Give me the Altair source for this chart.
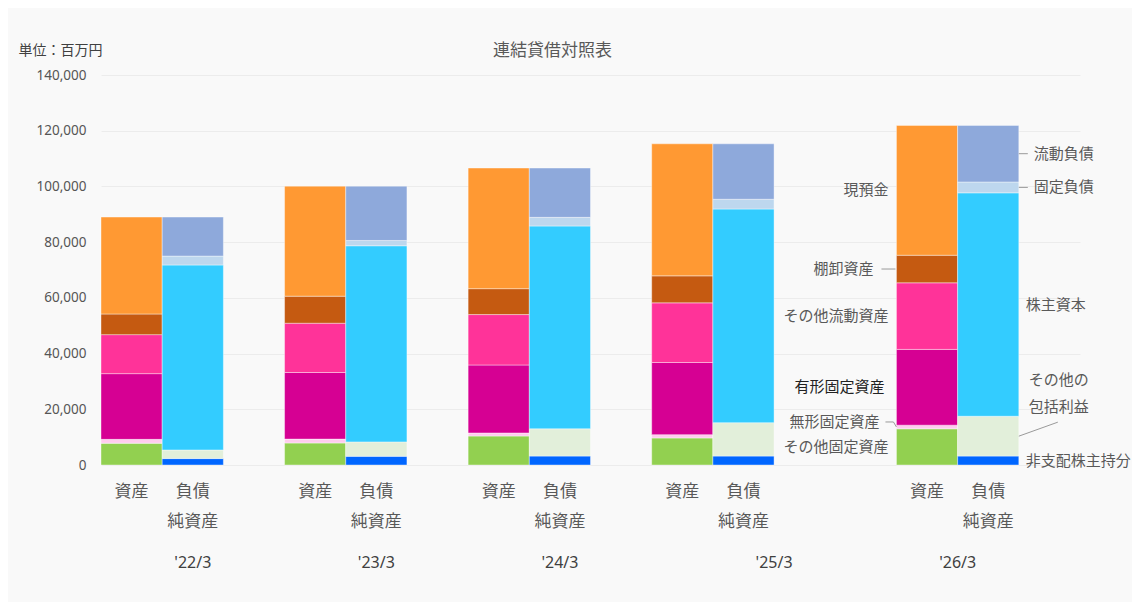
import altair as alt
import pandas as pd

JP = "Noto Sans CJK JP"
LAT = "Noto Sans, Noto Sans CJK JP"

years = ["'22/3", "'23/3", "'24/3", "'25/3", "'26/3"]

# 資産の部（百万円）
cash = [34800, 39500, 43300, 47400, 46600]
inventory = [7400, 9700, 9300, 9700, 9900]
other_current = [14000, 17700, 18100, 21400, 23900]
tangible = [23600, 23900, 24400, 25900, 27200]
intangible = [1400, 1400, 1100, 1200, 1300]
other_fixed = [7800, 7900, 10400, 9700, 13000]

# 負債・純資産の部（百万円）
current_liab = [14000, 19500, 17700, 19900, 20300]
fixed_liab = [3200, 1900, 3100, 3500, 3900]
equity = [66400, 70400, 72800, 76700, 80200]
oci = [3100, 5200, 9800, 12000, 14300]
nci = [2300, 3100, 3200, 3200, 3200]

asset_items = ["その他固定資産", "無形固定資産", "有形固定資産", "その他流動資産", "棚卸資産", "現預金"]
asset_values = [other_fixed, intangible, tangible, other_current, inventory, cash]
asset_colors = ["#92D050", "#FFCCEE", "#D60093", "#FF3399", "#C55A11", "#FF9933"]

liab_items = ["非支配株主持分", "その他の包括利益", "株主資本", "固定負債", "流動負債"]
liab_values = [nci, oci, equity, fixed_liab, current_liab]
liab_colors = ["#0066FF", "#E2EFDA", "#33CCFF", "#BDD7EE", "#8EA9DB"]

# layout: slot of each year's 資産 bar (負債純資産 bar in the next slot)
asset_slot = [0, 3, 6, 9, 13]
year_label_slot = [1.5, 4.5, 7.5, 11, 14]
n_slots = 16

rows = []
for i, yr in enumerate(years):
    lo = 0
    for item, vals in zip(asset_items, asset_values):
        v = vals[i]
        rows.append(dict(year=yr, side="A", item=item, lo=lo, hi=lo + v, mid=lo + v / 2,
                         x=asset_slot[i], x2=asset_slot[i] + 1))
        lo += v
    lo = 0
    for item, vals in zip(liab_items, liab_values):
        v = vals[i]
        rows.append(dict(year=yr, side="L", item=item, lo=lo, hi=lo + v, mid=lo + v / 2,
                         x=asset_slot[i] + 1, x2=asset_slot[i] + 2))
        lo += v
df = pd.DataFrame(rows)

xscale = alt.Scale(domain=[0, n_slots], nice=False, zero=False)
yscale = alt.Scale(domain=[0, 140000], nice=False)

bars = alt.Chart(df).mark_bar(stroke="white", strokeWidth=0.4).encode(
    x=alt.X("x:Q", scale=xscale, axis=None),
    x2="x2:Q",
    y=alt.Y("lo:Q", scale=yscale,
            axis=alt.Axis(values=list(range(0, 140001, 20000)), format=",d", grid=True,
                          gridColor="#ececec", gridWidth=1, domain=False, ticks=False,
                          labelPadding=15, labelFontSize=13.5, labelColor="#555555",
                          labelFont=LAT, title="単位：百万円", titleAngle=0, titleX=-83,
                          titleY=-25, titleAlign="left", titleBaseline="middle",
                          titleFontWeight="normal", titleFontSize=14, titleColor="#404040",
                          titleFont=JP)),
    y2="hi:Q",
    color=alt.Color("item:N", scale=alt.Scale(domain=asset_items + liab_items,
                                              range=asset_colors + liab_colors), legend=None),
)

# category labels under the bars
cat_rows = []
for i, yr in enumerate(years):
    cat_rows.append(dict(label="資産", x=asset_slot[i] + 0.5, line=0))
    cat_rows.append(dict(label="負債", x=asset_slot[i] + 1.5, line=0))
    cat_rows.append(dict(label="純資産", x=asset_slot[i] + 1.5, line=1))
cat_df = pd.DataFrame(cat_rows)

cat1 = alt.Chart(cat_df).transform_filter("datum.line == 0").mark_text(
    font=JP, fontSize=17, color="#595959", baseline="middle").encode(
    x="x:Q", y=alt.value(417), text="label:N")
cat2 = alt.Chart(cat_df).transform_filter("datum.line == 1").mark_text(
    font=JP, fontSize=17, color="#595959", baseline="middle").encode(
    x="x:Q", y=alt.value(447), text="label:N")

year_df = pd.DataFrame(dict(year=years, x=year_label_slot))
year_text = alt.Chart(year_df).mark_text(
    font=LAT, fontSize=16, color="#404040", baseline="middle").encode(
    x="x:Q", y=alt.value(488), text="year:N")

# annotations on the latest year's bars
last = df[df.year == years[-1]].copy()
last["xl"] = last["x"]
last["xr"] = last["x2"]


def ann(items, **kw):
    return alt.Chart(last[last.item.isin(items)]).mark_text(
        font=JP, fontSize=15, baseline="middle", **kw)


left_plain = ann(["現預金", "その他流動資産", "その他固定資産"], align="right", dx=-8,
                 color="#595959").encode(x="xl:Q", y="mid:Q", text="item:N")
left_dark = ann(["有形固定資産"], align="right", dx=-12, color="#222222").encode(
    x="xl:Q", y="mid:Q", text="item:N")
left_inv = ann(["棚卸資産"], align="right", dx=-23, color="#595959").encode(
    x="xl:Q", y="mid:Q", text="item:N")
left_intang = ann(["無形固定資産"], align="right", dx=-17, dy=-5, color="#595959").encode(
    x="xl:Q", y="mid:Q", text="item:N")

right_line = ann(["流動負債", "固定負債"], align="left", dx=15, color="#595959").encode(
    x="xr:Q", y="mid:Q", text="item:N")
right_plain = ann(["株主資本", "非支配株主持分"], align="left", dx=7, color="#595959").encode(
    x="xr:Q", y="mid:Q", text="item:N")
right_oci = ann(["その他の包括利益"], align="left", dx=10, dy=-56, color="#595959",
                lineHeight=27).encode(
    x="xr:Q", y="mid:Q", text=alt.value(["その他の", "包括利益"]))

LC = "#9a9a9a"


def lines(items):
    return alt.Chart(last[last.item.isin(items)])


l_inv = lines(["棚卸資産"]).mark_rule(color=LC, xOffset=-15, x2Offset=-1).encode(
    x="xl:Q", x2="xl:Q", y="mid:Q")
l_int1 = lines(["無形固定資産"]).mark_rule(color=LC, xOffset=-11, x2Offset=-3, yOffset=-5).encode(
    x="xl:Q", x2="xl:Q", y="mid:Q")
l_int2 = lines(["無形固定資産"]).mark_rule(color=LC, xOffset=-3, x2Offset=0, yOffset=-5,
                                        y2Offset=0).encode(
    x="xl:Q", x2="xl:Q", y="mid:Q", y2="mid:Q")
l_right = lines(["流動負債", "固定負債"]).mark_rule(color=LC, xOffset=0, x2Offset=9).encode(
    x="xr:Q", x2="xr:Q", y="mid:Q")
l_oci = lines(["その他の包括利益"]).mark_rule(color=LC, xOffset=0, x2Offset=39, y2Offset=-14).encode(
    x="xr:Q", x2="xr:Q", y="mid:Q", y2="mid:Q")

chart = alt.layer(
    bars, cat1, cat2, year_text,
    left_plain, left_dark, left_inv, left_intang,
    right_line, right_plain, right_oci,
    l_inv, l_int1, l_int2, l_right, l_oci,
).properties(
    width=979, height=390,
    autosize=alt.AutoSizeParams(type="none"),
    padding={"left": 93, "top": 67, "right": 52, "bottom": 137},
    title=alt.TitleParams("連結貸借対照表", font=JP, fontSize=17, fontWeight="normal",
                          color="#595959", anchor="middle", dx=-38, dy=37, offset=20),
    background="#f9f9f9",
).configure_view(stroke=None)

chart.save("out.html", embed_options={"renderer": "svg", "actions": False})
